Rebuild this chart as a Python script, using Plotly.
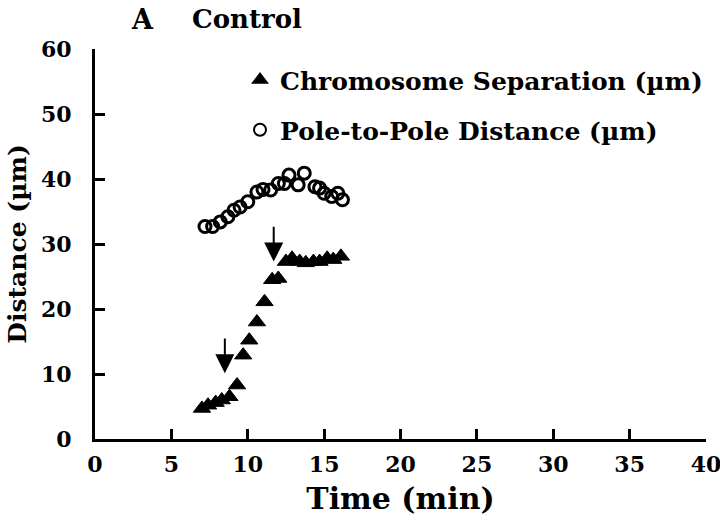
import plotly.graph_objects as go

# ---- data ----
chrom_time = [7.0, 7.4, 7.9, 8.3, 8.8, 9.3, 9.7, 10.1, 10.6, 11.1, 11.6, 12.0,
              12.5, 12.9, 13.4, 13.8, 14.3, 14.7, 15.2, 15.6, 16.1]
chrom_sep = [4.7, 5.2, 5.6, 6.0, 6.5, 8.3, 12.9, 15.2, 18.0, 21.1, 24.5, 24.7,
             27.3, 27.8, 27.3, 27.1, 27.3, 27.3, 27.8, 27.6, 28.1]

pole_time = [7.2, 7.7, 8.2, 8.7, 9.1, 9.5, 10.0, 10.6, 11.0, 11.5, 12.0, 12.4,
             12.7, 13.3, 13.7, 14.4, 14.7, 15.0, 15.5, 15.9, 16.2]
pole_dist = [32.7, 32.7, 33.4, 34.2, 35.2, 35.7, 36.5, 38.0, 38.4, 38.3, 39.3, 39.3,
             40.6, 39.1, 40.9, 38.8, 38.6, 37.8, 37.3, 37.8, 36.8]

arrow_time = [8.5, 11.7]
arrow_top = [15.7, 32.9]
arrow_tip = [10.1, 27.3]

x_ticks = [0, 5, 10, 15, 20, 25, 30, 35, 40]
y_ticks = [0, 10, 20, 30, 40, 50, 60]

FONT = "DejaVu Serif"
W, H = 720, 523
L, T = 95, 49
R = W - 706
B = H - 439
PW, PH = W - L - R, H - T - B


def px(x):
    return (x - L) / PW


def py(y):
    return 1 - (y - T) / PH


fig = go.Figure()
fig.add_trace(go.Scatter(
    x=chrom_time, y=chrom_sep, mode="markers",
    name="<b>Chromosome Separation (\u00b5m)</b>",
    marker=dict(symbol="triangle-up", size=15, color="black",
                line=dict(color="black", width=1)),
    legend="legend",
))
fig.add_trace(go.Scatter(
    x=pole_time, y=pole_dist, mode="markers",
    name="<b>Pole-to-Pole Distance (\u00b5m)</b>",
    marker=dict(symbol="circle-open", size=12, color="black",
                line=dict(color="black", width=3)),
    legend="legend2",
))

for t, top, tip in zip(arrow_time, arrow_top, arrow_tip):
    fig.add_annotation(
        x=t, y=tip, ax=t, ay=top, xref="x", yref="y", axref="x", ayref="y",
        showarrow=True, arrowhead=2, arrowsize=1.9, arrowwidth=2,
        arrowcolor="black", text="",
    )

fig.add_annotation(
    text="<b>A</b>", xref="paper", yref="paper",
    x=px(129), y=py(19), xanchor="left", yanchor="middle",
    showarrow=False, font=dict(family=FONT, size=27, color="black"),
)
fig.add_annotation(
    text="<b>Control</b>", xref="paper", yref="paper",
    x=px(190), y=py(19), xanchor="left", yanchor="middle",
    showarrow=False, font=dict(family=FONT, size=26, color="black"),
)

fig.update_layout(
    width=W, height=H,
    margin=dict(l=L, r=R, t=T, b=B, autoexpand=False),
    paper_bgcolor="white", plot_bgcolor="white",
    font=dict(family=FONT, color="black"),
    showlegend=True,
    legend=dict(x=px(240), y=py(80), xanchor="left", yanchor="middle", itemsizing="constant",
                bgcolor="rgba(0,0,0,0)", font=dict(family=FONT, size=25, color="black")),
    legend2=dict(x=px(240), y=py(130), xanchor="left", yanchor="middle", itemsizing="constant",
                 bgcolor="rgba(0,0,0,0)", font=dict(family=FONT, size=25, color="black")),
    xaxis=dict(
        range=[0, 40], tickvals=x_ticks, ticktext=[f"<b>{v}</b>" for v in x_ticks],
        ticks="inside", ticklen=10, tickwidth=2.5, tickcolor="black",
        showline=True, linewidth=3, linecolor="black", showgrid=False, zeroline=False,
        automargin=False, ticklabeloverflow="allow", ticklabelstandoff=4,
        tickfont=dict(family=FONT, size=22, color="black"),
        title=dict(text="<b>Time (min)</b>", font=dict(family=FONT, size=30, color="black"),
                   standoff=12),
    ),
    yaxis=dict(
        range=[0, 60], tickvals=y_ticks, ticktext=[f"<b>{v}</b>" for v in y_ticks],
        ticks="inside", ticklen=10, tickwidth=2.5, tickcolor="black",
        showline=True, linewidth=3, linecolor="black", showgrid=False, zeroline=False,
        automargin=False, ticklabelstandoff=16,
        tickfont=dict(family=FONT, size=22, color="black"),
        title=dict(text="<b>Distance (\u00b5m)</b>", font=dict(family=FONT, size=25, color="black"),
                   standoff=8),
    ),
)

fig.write_html("out.html", config={"displayModeBar": False},
               post_script="document.body.style.margin='0px';")
